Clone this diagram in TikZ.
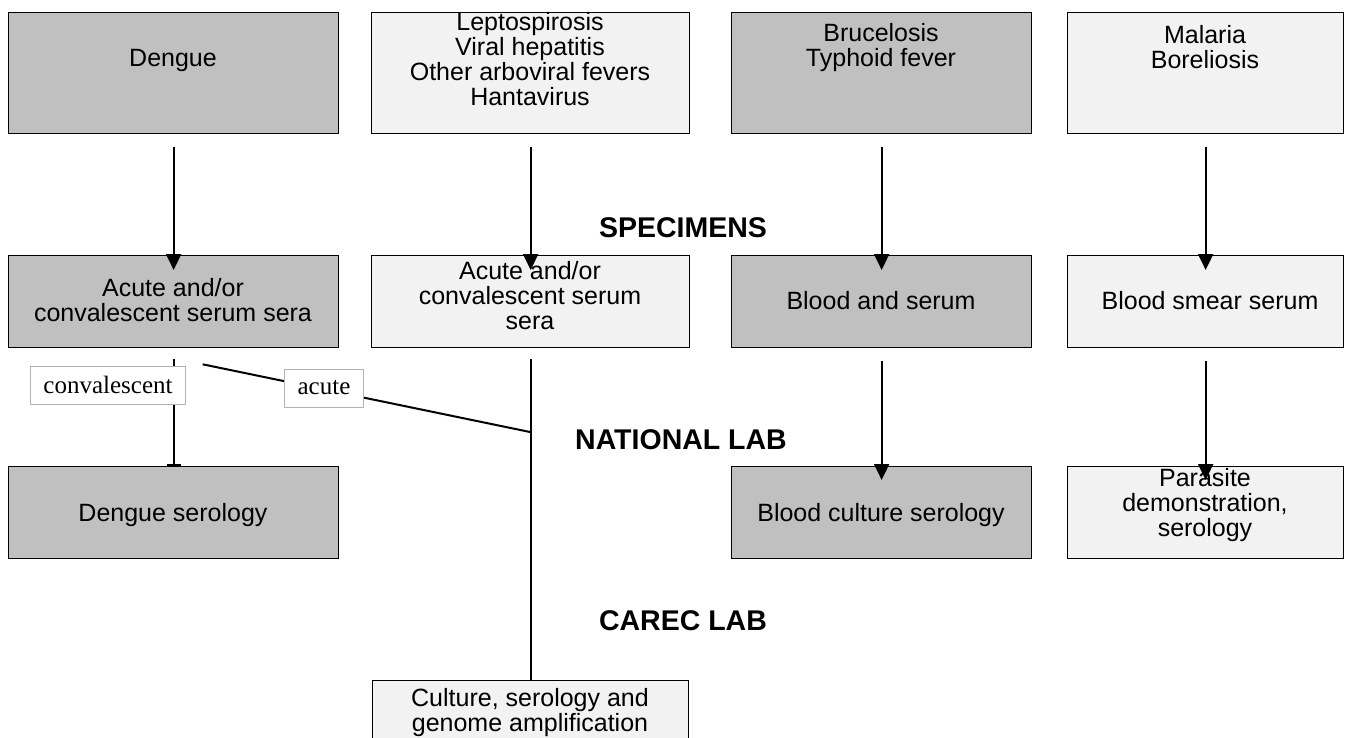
\documentclass[tikz,border=0pt]{standalone}
\usepackage{fontspec}
\setmainfont{Liberation Sans}
\newfontfamily\tagfont{Liberation Serif}
\usetikzlibrary{arrows.meta}
\definecolor{boxdark}{gray}{0.753}
\definecolor{boxlight}{gray}{0.949}

\begin{document}
\begin{tikzpicture}[x=1pt,y=-1pt,
  box/.style={draw=black, line width=1.3pt, anchor=north west, inner sep=0pt},
  darkbox/.style={box, fill=boxdark},
  lightbox/.style={box, fill=boxlight},
  txt/.style={font=\fontsize{25}{25}\selectfont, align=center, inner sep=0pt},
  heading/.style={font=\fontsize{28.5}{30}\selectfont\bfseries, inner sep=0pt},
  tag/.style={draw=gray!60, line width=0.8pt, fill=white,
    font=\tagfont\fontsize{25}{25}\selectfont, inner xsep=13pt, inner ysep=0pt,
    minimum height=38pt},
  flow/.style={line width=2pt, -{Triangle[width=15pt,length=16pt]}},
  stop/.style={line width=2pt, -{Bar[width=14pt,line width=2pt]}},
  plain/.style={line width=2pt},
]
\clip (0,0) rectangle (1346,738);
\fill[white] (0,0) rectangle (1346,738);

% diseases
\node[darkbox,  minimum width=330pt, minimum height=121pt] (dengue) at (8,12) {};
\node[lightbox, minimum width=318pt, minimum height=121pt] (lepto)  at (371,12) {};
\node[darkbox,  minimum width=300pt, minimum height=121pt] (bruce)  at (731,12) {};
\node[lightbox, minimum width=276pt, minimum height=121pt] (malaria) at (1067,12) {};
\node[txt] (dengue-t) at (173,60) {Dengue};
\node[txt] (lepto-t) at (530,59) {Leptospirosis\\Viral hepatitis\\Other arboviral fevers\\Hantavirus};
\node[txt] (bruce-t) at (881,47.5) {Brucelosis\\Typhoid fever};
\node[txt] (malaria-t) at (1205,47.5) {Malaria\\Boreliosis};

% specimens
\node[darkbox,  minimum width=330pt, minimum height=92pt] (dengueS) at (8,255) {};
\node[lightbox, minimum width=318pt, minimum height=92pt] (leptoS)  at (371,255) {};
\node[darkbox,  minimum width=300pt, minimum height=92pt] (bruceS)  at (731,255) {};
\node[lightbox, minimum width=276pt, minimum height=92pt] (malariaS) at (1067,255) {};
\node[txt] (dengueS-t) at (173,300.5) {Acute and/or\\convalescent serum sera};
\node[txt] (leptoS-t) at (530,296) {Acute and/or\\convalescent serum\\sera};
\node[txt] (bruceS-t) at (881,301) {Blood and serum};
\node[txt] (malariaS-t) at (1210,301) {Blood smear serum};

% national lab tests
\node[darkbox,  minimum width=330pt, minimum height=92pt] (dengueT) at (8,466) {};
\node[darkbox,  minimum width=300pt, minimum height=92pt] (bruceT)  at (731,466) {};
\node[lightbox, minimum width=276pt, minimum height=92pt] (malariaT) at (1067,466) {};
\node[txt] (dengueT-t) at (173,515) {Dengue serology};
\node[txt] (bruceT-t) at (881,515) {Blood culture serology};
\node[txt] (malariaT-t) at (1205,505) {Parasite\\demonstration,\\serology};

% reference lab
\node[lightbox, minimum width=316pt, minimum height=90pt] (carec) at (372,680) {};
\node[txt] (carec-t) at (530,713) {Culture, serology and\\genome amplification};

% level headings
\node[heading] (h-spec) at (683,228) {SPECIMENS};
\node[heading] (h-nat) at (681,440) {NATIONAL LAB};
\node[heading] (h-carec) at (683,621) {CAREC LAB};

% disease -> specimen
\foreach \a/\b in {dengue/dengueS, lepto/leptoS, bruce/bruceS, malaria/malariaS}
  \draw[flow] ([yshift=-13pt]\a.south) -- ([yshift=-15pt]\b.north);

% specimen -> test
\draw[flow] ([yshift=-13pt]bruceS.south) -- ([yshift=-14pt]bruceT.north);
\draw[flow] ([yshift=-13pt]malariaS.south) -- ([yshift=-14pt]malariaT.north);
\draw[stop] ([yshift=-11pt]dengueS.south) -- (dengueT.north);
\draw[plain] ([yshift=-11pt]leptoS.south) -- (carec.north);
\coordinate (acute-from) at ([xshift=29pt,yshift=-16pt]dengueS.south);
\coordinate (acute-to) at (530,432);
\draw[plain] (acute-from) -- (acute-to);

% branch tags
\node[tag] (conv-tag) at (108,385) {convalescent};
\node[tag] (acute-tag) at (324,388) {acute};
\end{tikzpicture}
\end{document}
